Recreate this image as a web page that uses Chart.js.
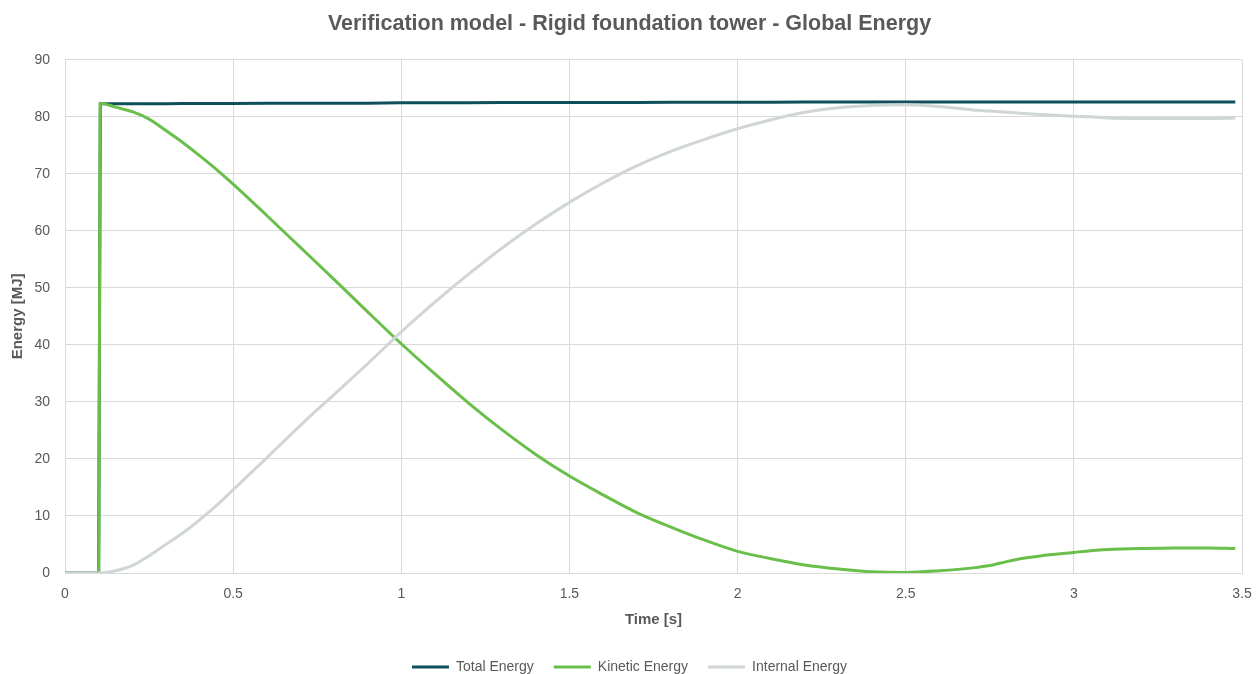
<!DOCTYPE html>
<html>
<head>
<meta charset="utf-8">
<script src="https://cdn.jsdelivr.net/npm/chart.js@4/dist/chart.umd.min.js"></script>
<style>
  html, body { margin: 0; padding: 0; background: #ffffff; overflow: hidden; }
  #wrap { width: 1259px; height: 684px; position: relative; }
</style>
</head>
<body>
<div id="wrap"><canvas id="chart"></canvas></div>
<script>
// Simulation time samples [s]
const time = [0, 0.05, 0.1, 0.105, 0.15, 0.2, 0.25, 0.3, 0.35, 0.4, 0.45, 0.5,
  0.6, 0.7, 0.8, 0.9, 1.0, 1.1, 1.2, 1.3, 1.4, 1.5, 1.6, 1.7, 1.8, 1.9, 2.0,
  2.1, 2.2, 2.3, 2.4, 2.5, 2.6, 2.7, 2.75, 2.8, 2.85, 2.9, 3.0, 3.05, 3.1,
  3.2, 3.3, 3.4, 3.48];

// Energy histories [MJ]
const totalEnergy = [0, 0, 0, 82.3, 82.3, 82.3, 82.3, 82.3, 82.35, 82.35, 82.35, 82.35,
  82.4, 82.4, 82.4, 82.4, 82.45, 82.45, 82.45, 82.5, 82.5, 82.5, 82.5, 82.5, 82.55, 82.55, 82.55,
  82.55, 82.6, 82.6, 82.6, 82.6, 82.6, 82.6, 82.6, 82.6, 82.6, 82.6, 82.6, 82.6, 82.6,
  82.6, 82.6, 82.6, 82.6];

const kineticEnergy = [0, 0, 0, 82.4, 81.7, 80.9, 79.6, 77.6, 75.5, 73.2, 70.8, 68.2,
  62.7, 57.1, 51.5, 45.8, 40.2, 34.9, 29.8, 25.1, 20.8, 17.0, 13.7, 10.6, 8.1, 5.8, 3.8,
  2.5, 1.4, 0.7, 0.2, 0.1, 0.4, 0.9, 1.3, 2.0, 2.6, 3.0, 3.6, 3.9, 4.1,
  4.3, 4.4, 4.4, 4.3];

const internalEnergy = [0, 0, 0, 0, 0.4, 1.3, 3.0, 5.0, 7.0, 9.3, 11.8, 14.6,
  20.2, 25.9, 31.3, 36.7, 42.3, 47.5, 52.4, 57.0, 61.2, 65.0, 68.4, 71.4, 73.9, 76.0, 77.9,
  79.5, 80.8, 81.6, 82.0, 82.1, 81.8, 81.2, 81.0, 80.8, 80.6, 80.4, 80.1, 80.0, 79.8,
  79.7, 79.7, 79.7, 79.8];

// Axis tick values
const timeTicks = [0, 0.5, 1, 1.5, 2, 2.5, 3, 3.5];
const energyTicks = [0, 10, 20, 30, 40, 50, 60, 70, 80, 90];

const toPoints = (ys) => time.map((t, i) => ({ x: t, y: ys[i] }));

const textColor = '#595959';
const gridColor = '#d9d9d9';
const fontFamily = '"Liberation Sans", Arial, sans-serif';

new Chart(document.getElementById('chart'), {
  type: 'line',
  data: {
    datasets: [
      { label: 'Total Energy', data: toPoints(totalEnergy), borderColor: '#0f4f5c',
        backgroundColor: '#0f4f5c', borderWidth: 3, pointRadius: 0, tension: 0, order: 2 },
      { label: 'Kinetic Energy', data: toPoints(kineticEnergy), borderColor: '#6abf4b',
        backgroundColor: '#6abf4b', borderWidth: 3, pointRadius: 0, cubicInterpolationMode: 'monotone', order: 1 },
      { label: 'Internal Energy', data: toPoints(internalEnergy), borderColor: '#d0d5d5',
        backgroundColor: '#d0d5d5', borderWidth: 3, pointRadius: 0, cubicInterpolationMode: 'monotone', order: 0 }
    ]
  },
  options: {
    responsive: true,
    maintainAspectRatio: false,
    animation: false,
    layout: { padding: { left: 15, right: 15, top: 5, bottom: 0 } },
    plugins: {
      title: {
        display: true,
        text: 'Verification model - Rigid foundation tower - Global Energy',
        color: textColor,
        font: { family: fontFamily, size: 21.5, weight: 'bold' },
        padding: { top: 6, bottom: 23 }
      },
      legend: {
        position: 'bottom',
        labels: {
          color: textColor,
          font: { family: fontFamily, size: 14 },
          boxWidth: 37,
          boxHeight: 3,
          padding: 20,
          sort: (a, b) => a.datasetIndex - b.datasetIndex,
          generateLabels: (chart) => Chart.defaults.plugins.legend.labels.generateLabels(chart)
            .map(item => Object.assign(item, { lineWidth: 0 }))
        }
      },
      tooltip: { enabled: false }
    },
    scales: {
      x: {
        type: 'linear',
        min: 0,
        max: 3.5,
        afterBuildTicks: (axis) => { axis.ticks = timeTicks.map(v => ({ value: v })); },
        afterFit: (axis) => { axis.height = 67; axis.paddingLeft = 0; axis.paddingRight = 17; },
        ticks: { color: textColor, font: { family: fontFamily, size: 14 }, padding: 13,
          autoSkip: false, maxRotation: 0, callback: (v) => String(v) },
        grid: { color: gridColor, drawTicks: false },
        border: { color: gridColor },
        title: { display: true, text: 'Time [s]', color: textColor,
          font: { family: fontFamily, size: 15, weight: 'bold' }, padding: { top: 8, bottom: 11 } }
      },
      y: {
        min: 0,
        max: 90,
        afterBuildTicks: (axis) => { axis.ticks = energyTicks.map(v => ({ value: v })); },
        afterFit: (axis) => { axis.width = 50; },
        ticks: { color: textColor, font: { family: fontFamily, size: 14 }, padding: 15,
          callback: (v) => String(v) },
        grid: { color: gridColor, drawTicks: false },
        border: { color: gridColor },
        title: { display: true, text: 'Energy [MJ]', color: textColor,
          font: { family: fontFamily, size: 15, weight: 'bold' }, padding: { top: -6, bottom: 4 } }
      }
    }
  }
});
</script>
</body>
</html>
